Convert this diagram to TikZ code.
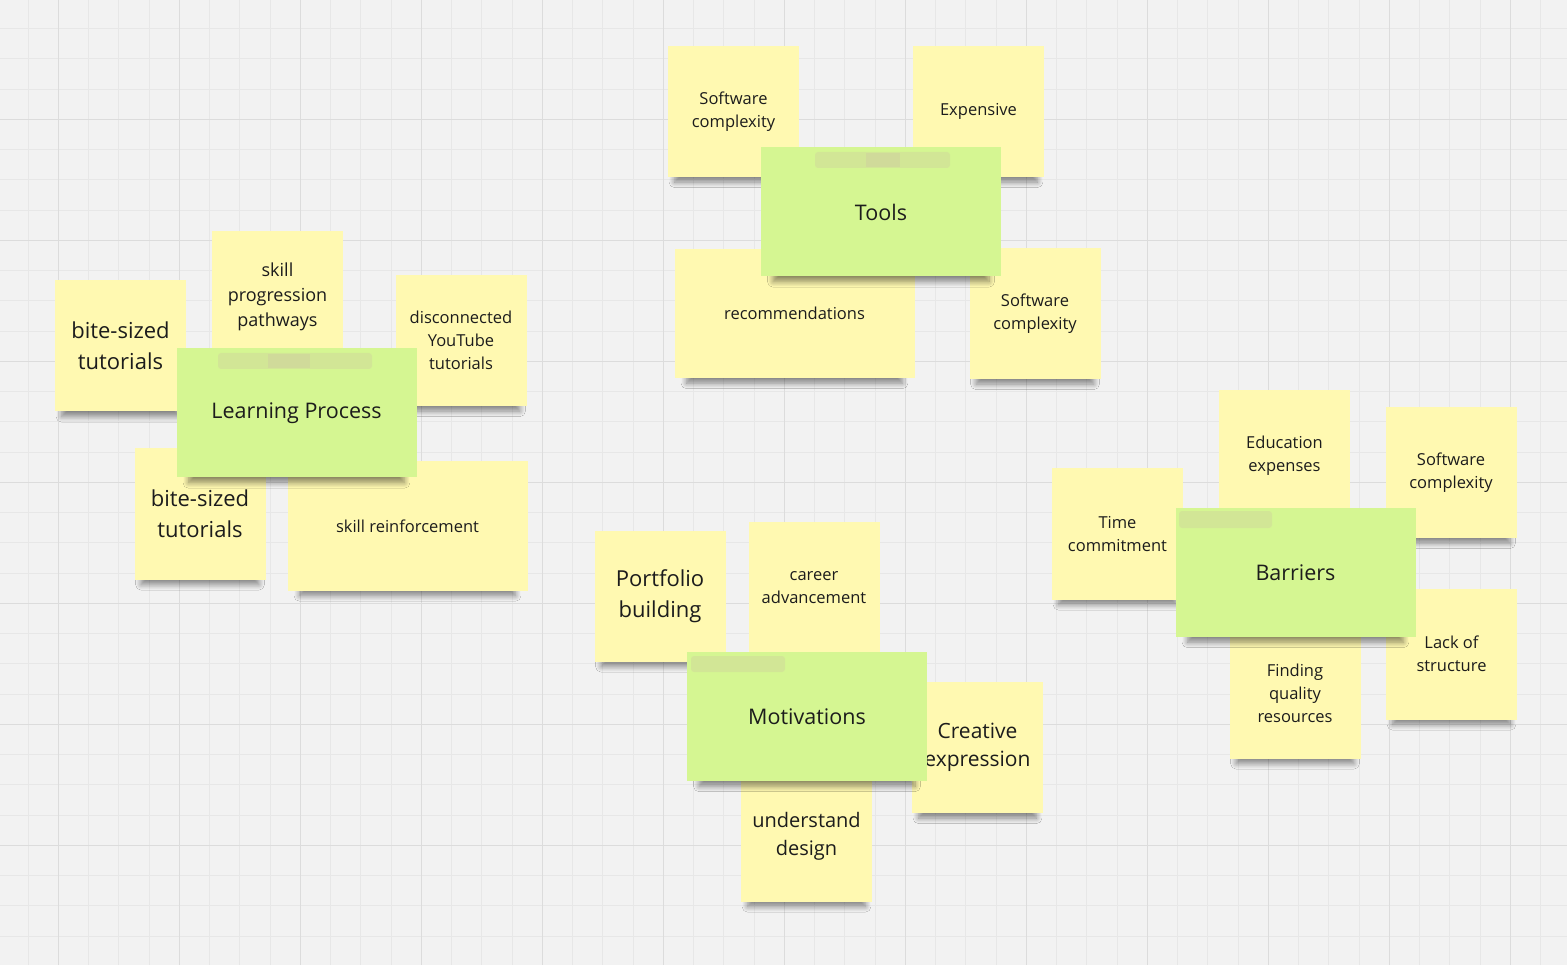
\documentclass[tikz,border=0pt]{standalone}
\usepackage{fontspec}
\setmainfont{Open Sans}
\usetikzlibrary{shadows.blur}

\definecolor{boardbg}{HTML}{F2F2F2}
\definecolor{gridminor}{HTML}{E7E7E7}
\definecolor{gridmajor}{HTML}{DCDCDC}
\definecolor{noteyellow}{HTML}{FFF9B1}
\definecolor{notegreen}{HTML}{D5F692}
\definecolor{notetext}{HTML}{1C1C1C}
\definecolor{smudge}{HTML}{CFC9A0}

\begin{document}
\begin{tikzpicture}[x=1pt, y=-1pt,
    sticky note/.style={rectangle, fill=#1, minimum width=131pt, minimum height=131pt, inner sep=2pt, align=center, text=notetext, font=\fontsize{16.5}{23}\selectfont,
        blur shadow={shadow xshift=0pt, shadow yshift=-13pt, shadow scale=0.9, shadow opacity=45, shadow blur radius=6pt, shadow blur steps=12}},
    sticky note/.default=noteyellow,
    wide note/.style={sticky note=#1, minimum width=240pt, minimum height=129pt},
    wide note/.default=noteyellow,
    big text/.style={font=\fontsize{22}{31}\selectfont},
    topic/.style={wide note=notegreen, font=\fontsize{21.5}{30}\selectfont}
]
\useasboundingbox (0,0) rectangle (1567,965);
% board grid
\fill[boardbg] (0,0) rectangle (1567,965);
\foreach \i in {0,...,52} {
    \draw[gridminor] (-2.5+30.25*\i,0) -- (-2.5+30.25*\i,965);
    \draw[gridminor] (0,-2+30.25*\i) -- (1567,-2+30.25*\i);
}
\foreach \g in {-63,58,...,1600} \draw[gridmajor] (\g,0) -- (\g,965);
\foreach \g in {-2,119,...,1000} \draw[gridmajor] (0,\g) -- (1567,\g);

% Learning Process
\node [sticky note, big text] (LPa) at (120.5,346) {bite-sized\\tutorials};
\node [sticky note, font=\fontsize{18}{25}\selectfont] (LPb) at (277.5,297) {skill\\progression\\pathways};
\node [sticky note] (LPc) at (461,340.5) {disconnected\\YouTube\\tutorials};
\node [sticky note, big text] (LPd) at (200,514) {bite-sized\\tutorials};
\node [wide note] (LPe) at (407.5,526) {skill reinforcement};
\node [topic] (LP) at (296.5,413) {Learning Process};
\fill[smudge, opacity=0.35, rounded corners=3pt] (218,353) rectangle (372,369);
\fill[smudge, opacity=0.4] (268,354) rectangle (310,368);

% Tools
\node [sticky note] (Ta) at (733.5,111.5) {Software\\complexity};
\node [sticky note] (Tb) at (978.5,111.5) {Expensive};
\node [wide note] (Tc) at (794.5,313.5) {recommendations};
\node [sticky note] (Td) at (1035,313.5) {Software\\complexity};
\node [topic] (T) at (881,212) {Tools};
\fill[smudge, opacity=0.35, rounded corners=3pt] (815,152) rectangle (950,168);
\fill[smudge, opacity=0.4] (866,153) rectangle (900,167);

% Motivations
\node [sticky note, big text] (Ma) at (660,596) {Portfolio\\building};
\node [sticky note] (Mb) at (814,587.5) {career\\advancement};
\node [sticky note, font=\fontsize{21}{28}\selectfont] (Mc) at (977.5,747.5) {Creative\\expression};
\node [sticky note, font=\fontsize{20}{28}\selectfont] (Md) at (806.5,836) {understand\\design};
\node [topic] (M) at (807,716.5) {Motivations};
\fill[smudge, opacity=0.35, rounded corners=3pt] (691,656) rectangle (785,672);

% Barriers
\node [sticky note] (Ba) at (1117.5,534) {Time\\commitment};
\node [sticky note] (Bb) at (1284.5,455.5) {Education\\expenses};
\node [sticky note] (Bc) at (1451,472.5) {Software\\complexity};
\node [sticky note] (Bd) at (1295,693) {Finding\\quality\\resources};
\node [sticky note] (Be) at (1451.5,654) {Lack of\\structure};
\node [topic] (B) at (1295.5,572.5) {Barriers};
\fill[smudge, opacity=0.35, rounded corners=3pt] (1179,511) rectangle (1272,528);

\end{tikzpicture}
\end{document}
